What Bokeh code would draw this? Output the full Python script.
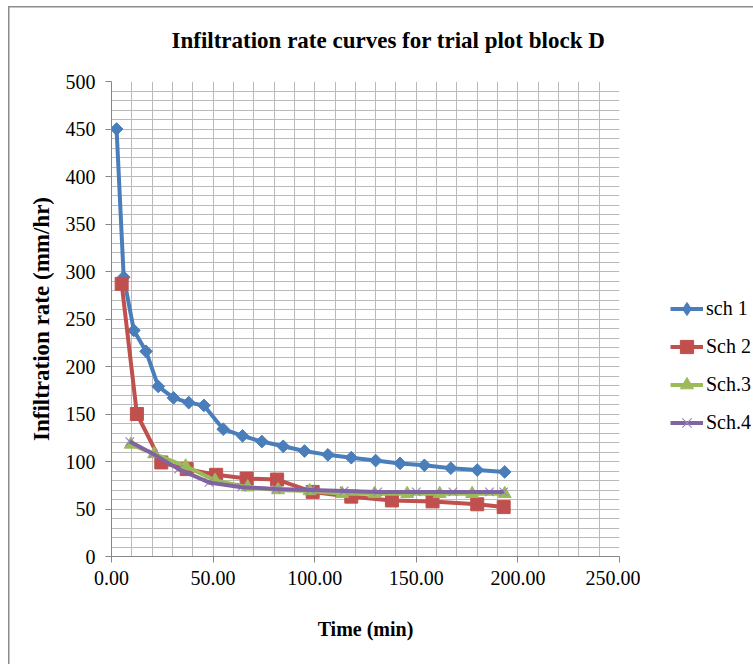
from bokeh.plotting import figure
from bokeh.layouts import row
from bokeh.models import (Range1d, SingleIntervalTicker, NumeralTickFormatter,
                          Legend, LegendItem, Title)
from bokeh.embed import file_html
from bokeh.resources import INLINE

# Infiltration measurements, trial plot block D
time_sch1 = [2.5, 6, 11, 17, 23, 30.5, 38, 45.5, 55, 64.5, 74, 84.5, 95,
             106.5, 118, 130, 142, 154, 167, 180, 193.5]
rate_sch1 = [450, 294, 238, 216, 179, 167, 162, 159, 134, 127, 121, 116, 111,
             107, 104, 101, 98, 96, 93, 91, 89]

time_sch2 = [5, 12.5, 24.5, 37, 51.5, 66.5, 81.5, 99, 118, 138, 158, 180, 193]
rate_sch2 = [287, 150, 99, 92, 86, 82, 81, 68, 63, 59, 58, 55, 52]

time_sch3 = [9.5, 21, 36.5, 51, 67, 82, 97.5, 113.5, 129.5, 145.5, 161.5, 177.5, 193.5]
rate_sch3 = [118, 108, 95, 80, 73, 70, 69, 66, 66, 66, 66, 66, 66]

time_sch4 = [9, 20.5, 33, 48, 64, 81, 98, 114.5, 131, 150, 168, 186, 193]
rate_sch4 = [121, 108, 92, 78, 73, 71, 70, 69, 68, 68, 68, 68, 68]

series_names = ["sch 1", "Sch 2", "Sch.3", "Sch.4"]
series_time = [time_sch1, time_sch2, time_sch3, time_sch4]
series_rate = [rate_sch1, rate_sch2, rate_sch3, rate_sch4]

SERIF = "Liberation Serif"
GRAY = "#8c8c8c"
blue, red, green, purple = "#4A7EBB", "#C0504D", "#9BBB59", "#8064A2"
lw = 4

# marker style per series
marker_styles = [
    dict(marker="square", angle=0.785398, size=9, fill_color=blue, line_color=blue),
    dict(marker="square", size=13, fill_color=red, line_color=red),
    dict(marker="triangle", size=13, fill_color=green, line_color=green),
    dict(marker="x", size=12, line_color="#9a86c0", line_width=1.2),
]
# legend keys ignore marker angles, so the first key uses a diamond
key_styles = [dict(marker_styles[0], marker="diamond", angle=0)] + marker_styles[1:]
line_colors = [blue, red, green, purple]

# ---------------- main chart ----------------
p = figure(width=640, height=664,
           x_range=Range1d(0, 250), y_range=Range1d(0, 500),
           output_backend="svg", toolbar_location=None,
           min_border_left=111, min_border_right=21,
           min_border_top=81, min_border_bottom=108)
p.border_fill_color = None
p.background_fill_color = "white"
p.outline_line_color = None
p.styles = {
    "background-color": "white",
    "background-image": f"linear-gradient({GRAY}, {GRAY}), linear-gradient({GRAY}, {GRAY})",
    "background-repeat": "no-repeat",
    "background-position": "8px 6px, 8px 6px",
    "background-size": "1.5px 100%, 100% 1.5px",
}

for ax in (p.xaxis, p.yaxis):
    ax.ticker = SingleIntervalTicker(interval=50, num_minor_ticks=0)
    ax.axis_line_color = "#868686"
    ax.major_tick_line_color = "#868686"
    ax.major_tick_out = 6
    ax.major_tick_in = 0
    ax.minor_tick_line_color = None
    ax.major_label_text_font = SERIF
    ax.major_label_text_font_size = "20px"
    ax.major_label_text_color = "black"
    ax.axis_label_text_font = SERIF
    ax.axis_label_text_font_style = "bold"
    ax.axis_label_text_color = "black"

p.xaxis.formatter = NumeralTickFormatter(format="0.00")
p.xaxis.major_label_standoff = 8
p.yaxis.major_label_standoff = 10
p.xaxis.axis_label = "Time (min)"
p.yaxis.axis_label = "Infiltration rate (mm/hr)"
p.xaxis.axis_label_text_font_size = "20px"
p.yaxis.axis_label_text_font_size = "23px"
p.xaxis.axis_label_standoff = 30
p.yaxis.axis_label_standoff = 9

p.xgrid.ticker = SingleIntervalTicker(interval=10)
p.ygrid.ticker = SingleIntervalTicker(interval=10)
for g in (p.xgrid, p.ygrid):
    g.grid_line_color = "#bababa"
    g.grid_line_width = 1

for i, (t, r) in enumerate(zip(series_time, series_rate)):
    if i == 3:
        # the x markers sit beneath the purple line
        p.scatter(t, r, **marker_styles[i])
        p.line(t, r, line_color=line_colors[i], line_width=lw, line_join="round")
    else:
        p.line(t, r, line_color=line_colors[i], line_width=lw, line_join="round")
        p.scatter(t, r, **marker_styles[i])

# gap between the chart title and the plot area
p.add_layout(Title(text=" ", text_font_size="11px"), "above")
p.add_layout(Title(text="Infiltration rate curves for trial plot block D",
                   text_font=SERIF, text_font_style="bold",
                   text_font_size="23px", text_color="black",
                   align="left", offset=60), "above")

# ---------------- legend panel ----------------
# its own ranges keep the key renderers' data out of view, only the key shows
lg = figure(width=113, height=664, x_range=Range1d(-2, -1), y_range=Range1d(-2, -1),
            output_backend="svg", toolbar_location=None,
            x_axis_type=None, y_axis_type=None, min_border=0)
lg.outline_line_color = None
lg.border_fill_color = None
lg.background_fill_color = None
lg.styles = {
    "background-color": "white",
    "background-image": f"linear-gradient({GRAY}, {GRAY})",
    "background-repeat": "no-repeat",
    "background-position": "0px 6px",
    "background-size": "100% 1.5px",
}

items = []
for i, (t, r) in enumerate(zip(series_time, series_rate)):
    kl = lg.line(t[:2], r[:2], line_color=line_colors[i], line_width=lw)
    km = lg.scatter(t[:1], r[:1], **key_styles[i])
    items.append(LegendItem(label=series_names[i], renderers=[kl, km]))

legend = Legend(items=items, location=(30, 117))
legend.padding = 0
legend.margin = 0
legend.border_line_color = None
legend.background_fill_color = None
legend.glyph_width = 33
legend.glyph_height = 33
legend.label_height = 20
legend.spacing = 5
legend.label_standoff = 3
legend.label_text_font = SERIF
legend.label_text_font_size = "20px"
legend.label_text_color = "black"
lg.add_layout(legend)

layout = row(p, lg, spacing=0)
open("out.html", "w").write(file_html(layout, INLINE))
